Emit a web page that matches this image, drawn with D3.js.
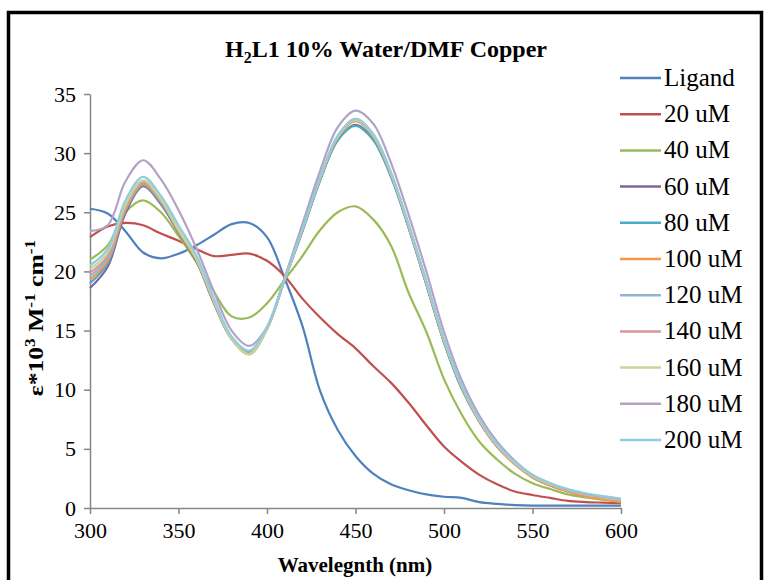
<!DOCTYPE html>
<html>
<head>
<meta charset="utf-8">
<script src="https://cdn.jsdelivr.net/npm/d3@7"></script>
<style>
  html, body { margin: 0; padding: 0; background: #fff; }
  svg text { font-family: "Liberation Serif", "Times New Roman", serif; }
</style>
</head>
<body>
<svg id="chart" width="767" height="580"></svg>
<script>
// Wavelength grid (nm)
const wavelengths = [300,310,320,330,340,350,360,370,380,390,400,410,420,430,440,450,460,470,480,490,500,510,520,530,540,550,560,570,580,590,600];

// Molar absorptivity (x10^3 M^-1 cm^-1) for each titration step
const ligand = [25.3,24.9,23.4,21.6,21.1,21.5,22.2,23.1,24.0,24.1,22.9,19.4,15.4,9.9,6.6,4.4,2.9,2.0,1.5,1.15,0.95,0.85,0.5,0.35,0.25,0.2,0.2,0.2,0.2,0.2,0.2];
const uM20  = [22.9,23.8,24.1,23.9,23.2,22.6,21.9,21.3,21.4,21.5,20.9,19.6,17.7,16.1,14.7,13.5,12.0,10.6,8.9,7.0,5.2,3.9,2.8,2.0,1.4,1.1,0.85,0.6,0.5,0.45,0.4];
const uM40  = [21.0,22.2,25.0,26.0,25.0,23.0,20.8,18.3,16.2,16.1,17.3,19.3,21.3,23.5,25.0,25.5,24.4,22.2,18.2,14.9,10.9,7.9,5.6,4.1,2.9,2.1,1.6,1.15,0.9,0.7,0.6];
const uM60  = [18.6,20.4,24.9,27.2,25.7,23.3,20.9,17.3,14.3,13.2,15.2,19.3,23.4,27.7,31.1,32.4,31.2,28.1,23.7,18.9,14.0,10.1,7.3,5.2,3.7,2.6,1.9,1.4,1.05,0.8,0.6];
const uM80  = [19.0,20.7,25.1,27.3,25.8,23.4,21.0,17.4,14.3,13.1,15.2,19.3,23.4,27.7,31.1,32.3,31.1,28.0,23.7,18.9,14.0,10.1,7.3,5.2,3.8,2.6,1.9,1.45,1.1,0.85,0.7];
const uM100 = [19.3,20.9,25.2,27.4,25.9,23.4,21.0,17.4,14.3,13.0,15.1,19.3,23.5,27.8,31.3,32.7,31.4,28.2,23.8,19.0,14.1,10.2,7.3,5.2,3.7,2.6,1.9,1.4,1.0,0.75,0.5];
const uM120 = [19.6,21.1,25.4,27.6,26.0,23.5,21.1,17.5,14.3,13.0,15.2,19.4,23.6,27.9,31.4,32.8,31.5,28.3,23.9,19.1,14.2,10.3,7.4,5.3,3.8,2.7,2.0,1.5,1.15,0.9,0.7];
const uM140 = [19.9,21.3,25.4,27.5,26.0,23.5,21.1,17.5,14.4,13.1,15.2,19.4,23.6,27.9,31.4,32.9,31.6,28.3,23.9,19.1,14.2,10.3,7.4,5.3,3.8,2.7,2.0,1.5,1.15,0.9,0.7];
const uM160 = [20.2,21.6,25.6,27.7,26.1,23.5,21.1,17.5,14.3,13.0,15.1,19.3,23.6,27.9,31.4,32.8,31.5,28.3,23.9,19.1,14.2,10.3,7.4,5.3,3.8,2.7,2.0,1.5,1.15,0.9,0.7];
const uM180 = [23.4,23.9,27.6,29.4,27.8,25.2,22.0,18.3,15.0,13.7,15.3,19.5,24.0,28.5,32.2,33.6,32.5,29.2,24.8,20.0,14.9,10.8,7.8,5.6,4.0,2.8,2.1,1.55,1.2,0.95,0.75];
const uM200 = [20.5,21.9,26.0,28.0,26.4,23.9,21.4,17.7,14.5,13.3,15.3,19.4,23.6,27.9,31.5,32.9,31.6,28.4,24.0,19.2,14.3,10.4,7.5,5.4,3.9,2.8,2.1,1.6,1.25,1.0,0.8];

const seriesNames = ["Ligand","20 uM","40 uM","60 uM","80 uM","100 uM","120 uM","140 uM","160 uM","180 uM","200 uM"];
const seriesValues = [ligand,uM20,uM40,uM60,uM80,uM100,uM120,uM140,uM160,uM180,uM200];
const seriesColors = ["#4F81BD","#C0504D","#9BBB59","#8064A2","#4BACC6","#F79646","#95B3D7","#D99694","#C3D69B","#B3A2C7","#93CDDD"];

const xTicks = [300,350,400,450,500,550,600];
const yTicks = [0,5,10,15,20,25,30,35];

const svg = d3.select("#chart");

// Outer frame
svg.append("rect")
  .attr("x", 8.5).attr("y", 12.5)
  .attr("width", 753).attr("height", 575)
  .attr("fill", "#fff").attr("stroke", "#000").attr("stroke-width", 3.5);

const plot = { left: 90, right: 621, top: 94, bottom: 508 };

const x = d3.scaleLinear().domain([300, 600]).range([plot.left, plot.right]);
const y = d3.scaleLinear().domain([0, 35]).range([plot.bottom, plot.top]);

// Axes
const axisColor = "#868686";
const xAxis = svg.append("g")
  .attr("transform", `translate(0,${plot.bottom})`)
  .call(d3.axisBottom(x).tickValues(xTicks).tickSize(6).tickPadding(8).tickSizeOuter(0));
const yAxis = svg.append("g")
  .attr("transform", `translate(${plot.left},0)`)
  .call(d3.axisLeft(y).tickValues(yTicks).tickSize(6).tickPadding(8).tickSizeOuter(0));

[xAxis, yAxis].forEach(g => {
  g.select(".domain").attr("stroke", axisColor).attr("stroke-width", 1.5);
  g.selectAll(".tick line").attr("stroke", axisColor).attr("stroke-width", 1.5);
  g.selectAll(".tick text")
    .attr("fill", "#000")
    .style("font-family", "'Liberation Serif', 'Times New Roman', serif")
    .style("font-size", "22px");
});

// Curves
const line = d3.line()
  .x((d, i) => x(wavelengths[i]))
  .y(d => y(d))
  .curve(d3.curveCatmullRom.alpha(0.5));

svg.append("g")
  .selectAll("path")
  .data(seriesValues)
  .join("path")
  .attr("d", d => line(d))
  .attr("fill", "none")
  .attr("stroke", (d, i) => seriesColors[i])
  .attr("stroke-width", 2.2)
  .attr("stroke-linejoin", "round");

// Legend
const legend = svg.append("g");
const legendRow = d3.scaleLinear().domain([0, 10]).range([78, 440]);
seriesNames.forEach((name, i) => {
  const yy = legendRow(i);
  legend.append("line")
    .attr("x1", 620).attr("x2", 661)
    .attr("y1", yy).attr("y2", yy)
    .attr("stroke", seriesColors[i]).attr("stroke-width", 2.5);
  legend.append("text")
    .attr("x", 664).attr("y", yy + 8)
    .style("font-size", "25px")
    .attr("fill", "#000")
    .text(name);
});

// Title
const title = svg.append("text")
  .attr("x", 386).attr("y", 57)
  .attr("text-anchor", "middle")
  .style("font-size", "24px").style("font-weight", "bold");
title.append("tspan").text("H");
title.append("tspan").attr("dy", 6).style("font-size", "16px").text("2");
title.append("tspan").attr("dy", -6).text("L1 10% Water/DMF Copper");

// Y axis label (widened along its reading direction)
const yl = svg.append("text")
  .attr("transform", "translate(43,318) rotate(-90) scale(1.16,1)")
  .attr("text-anchor", "middle")
  .style("font-size", "22px").style("font-weight", "bold");
yl.append("tspan").text("ε*10");
yl.append("tspan").attr("dy", -8).style("font-size", "15px").text("3");
yl.append("tspan").attr("dy", 8).text(" M");
yl.append("tspan").attr("dy", -8).style("font-size", "15px").text("-1");
yl.append("tspan").attr("dy", 8).text(" cm");
yl.append("tspan").attr("dy", -8).style("font-size", "15px").text("-1");

// X axis label
svg.append("text")
  .attr("x", 355).attr("y", 572)
  .attr("text-anchor", "middle")
  .style("font-size", "21px").style("font-weight", "bold")
  .text("Wavelegnth (nm)");
</script>
</body>
</html>
